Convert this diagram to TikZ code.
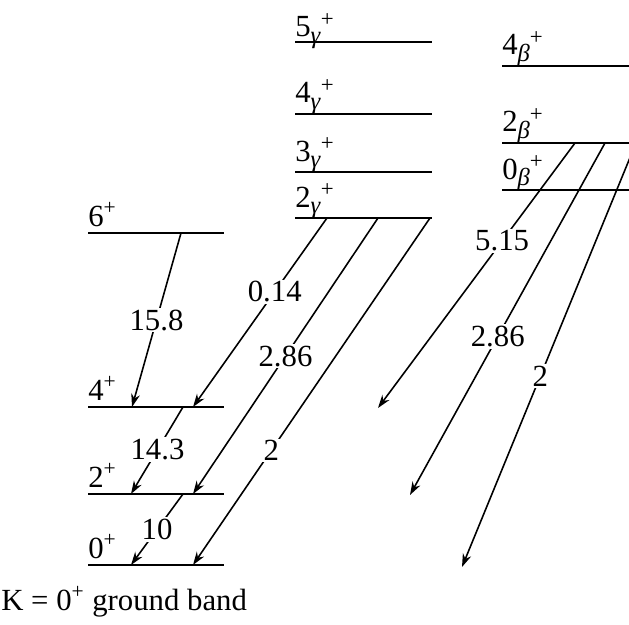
\documentclass[tikz,border=0pt]{standalone}
\usepackage{fontspec}
\setmainfont{Liberation Serif}
\usetikzlibrary{arrows.meta}
\newcommand{\gsub}[2]{#1\raisebox{-0.45ex}{\fontsize{14}{15}\selectfont\textit{#2}}\raisebox{0.75ex}{\fontsize{13}{14}\selectfont +}}

\begin{document}
\begin{tikzpicture}[x=0.02cm,y=-0.02cm,
  lvl/.style={line width=1.3pt},
  tr/.style={line width=0.9pt,-{Stealth[length=7.5pt,width=5pt]}},
  lab/.style={anchor=base west,inner sep=0pt,font=\fontsize{17.5}{20}\selectfont},
  val/.style={fill=white,inner sep=1pt,font=\fontsize{17.5}{20}\selectfont}]
  \useasboundingbox (0,0) rectangle (629,625);
  \clip (0,0) rectangle (629,625);
  % ground band
  \foreach \y/\s/\n in {233/6/g6,407/4/g4,494/2/g2,565/0/g0}{
    \draw[lvl] (88,\y) coordinate (\n) -- (224,\y);
    \node[lab] at (88,\y-7) {\s\textsuperscript{+}};}
  \node[lab] (kb) at (1,610) {K = 0\textsuperscript{+} ground band};
  % gamma band
  \foreach \y/\s/\d/\n in {42/5/5/c5,114/4/11/c4,172/3/11/c3,218/2/11/c2}{
    \draw[lvl] (295,\y) coordinate (\n) -- (432,\y);
    \node[lab] at (295,\y-\d) {\gsub{\s}{γ}};}
  % beta band
  \foreach \y/\s/\n in {66/4/b4,143/2/b2,190/0/b0}{
    \draw[lvl] (502,\y) coordinate (\n) -- (640,\y);
    \node[lab] at (502,\y-11) {\gsub{\s}{β}};}
  % transition ends
  \coordinate (g6a) at (181,233); \coordinate (g4a) at (132,407);
  \coordinate (g4b) at (183,407); \coordinate (g2a) at (131,494);
  \coordinate (g2b) at (183,494); \coordinate (g0a) at (131,565);
  \coordinate (g4c) at (193,407); \coordinate (g2c) at (193,494);
  \coordinate (g0c) at (193,565);
  \coordinate (c2a) at (327,218); \coordinate (c2b) at (378,218);
  \coordinate (c2c) at (430,218);
  \coordinate (b2a) at (575,143); \coordinate (b2b) at (605,143);
  \coordinate (b2c) at (636,143);
  \coordinate (xa) at (378,408); \coordinate (xb) at (410,495);
  \coordinate (xc) at (462,567);
  % in-band transitions
  \draw[tr] (g6a) -- node[val,pos=0.5] {15.8} (g4a);
  \draw[tr] (g4b) -- node[val,pos=0.49] {14.3} (g2a);
  \draw[tr] (g2b) -- node[val,pos=0.5] {10} (g0a);
  % gamma to ground
  \draw[tr] (c2a) -- node[val,pos=0.39] {0.14} (g4c);
  \draw[tr] (c2b) -- node[val,pos=0.5] {2.86} (g2c);
  \draw[tr] (c2c) -- node[val,pos=0.67] {2} (g0c);
  % beta to ground
  \draw[tr] (b2a) -- node[val,pos=0.37] {5.15} (xa);
  \draw[tr] (b2b) -- node[val,pos=0.55] {2.86} (xb);
  \draw[tr] (b2c) -- node[val,pos=0.55] {2} (xc);
\end{tikzpicture}
\end{document}
